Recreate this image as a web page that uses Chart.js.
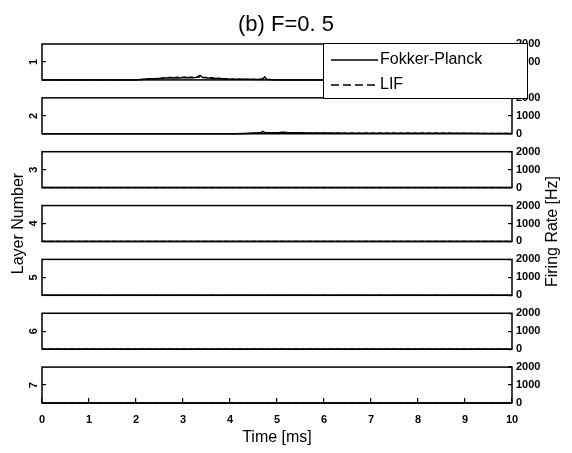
<!DOCTYPE html>
<html><head><meta charset="utf-8">
<script src="https://cdn.jsdelivr.net/npm/chart.js@4.4.0/dist/chart.umd.min.js"></script>
<style>html,body{margin:0;padding:0;background:#fff}#wrap{width:572px;height:453px;position:relative}</style>
</head><body><div id="wrap"><canvas id="c" width="572" height="453"></canvas></div>
<script>
// ---- text ----
const chartTitle = '(b) F=0. 5';
const xTitle = 'Time [ms]';
const leftTitle = 'Layer Number';
const rightTitle = 'Firing Rate [Hz]';
const layerLabels = ['1', '2', '3', '4', '5', '6', '7'];
const seriesNames = ['Fokker-Planck', 'LIF'];
const xTickValues = [0, 1, 2, 3, 4, 5, 6, 7, 8, 9, 10];
const rateTickValues = [0, 1000, 2000];

// ---- data (time in ms, rate in Hz) ----
const layer1FpTime = [0, 2.0, 2.15, 2.3, 2.45, 2.6, 2.75, 2.9, 3.05, 3.2, 3.3, 3.36, 3.42, 3.55, 3.7, 3.85, 4.0, 4.2, 4.4, 4.6, 4.7, 4.74, 4.78, 4.9, 5.2, 10];
const layer1FpRate = [0, 0, 40, 70, 60, 100, 120, 110, 130, 120, 140, 250, 130, 100, 80, 60, 40, 30, 30, 25, 60, 170, 30, 10, 0, 0];
const layer1LifTime = [0, 2.1, 2.3, 2.5, 2.7, 2.9, 3.1, 3.3, 3.5, 3.7, 3.9, 4.1, 4.4, 4.7, 5.0, 10];
const layer1LifRate = [0, 0, 60, 90, 140, 150, 150, 160, 140, 110, 70, 50, 30, 20, 0, 0];
const layer2FpTime = [0, 4.1, 4.3, 4.5, 4.65, 4.7, 4.75, 4.9, 5.05, 5.15, 5.25, 5.4, 5.7, 6.0, 6.5, 7.0, 7.5, 8.0, 8.5, 9.0, 9.5, 10];
const layer2FpRate = [0, 0, 20, 40, 50, 130, 50, 50, 70, 90, 60, 50, 40, 40, 30, 30, 30, 25, 30, 25, 20, 20];
const layer2LifTime = [0, 4.3, 4.6, 5.0, 5.3, 5.8, 6.5, 7.5, 8.5, 9.5, 10];
const layer2LifRate = [0, 0, 30, 50, 50, 40, 35, 30, 30, 25, 20];
const layer3to7Time = [0, 10];
const layer3to7Rate = [0, 0];

const fpSeries = [
  [layer1FpTime, layer1FpRate], [layer2FpTime, layer2FpRate],
  [layer3to7Time, layer3to7Rate], [layer3to7Time, layer3to7Rate], [layer3to7Time, layer3to7Rate],
  [layer3to7Time, layer3to7Rate], [layer3to7Time, layer3to7Rate]
];
const lifSeries = [
  [layer1LifTime, layer1LifRate], [layer2LifTime, layer2LifRate],
  [layer3to7Time, layer3to7Rate], [layer3to7Time, layer3to7Rate], [layer3to7Time, layer3to7Rate],
  [layer3to7Time, layer3to7Rate], [layer3to7Time, layer3to7Rate]
];

// ---- build ----
const pts = (t, v) => t.map((x, i) => ({x: x, y: v[i]}));
const tickFont = {family: "'Liberation Sans Narrow', 'Liberation Sans', Arial, sans-serif", size: 11, weight: 'bold'};
const labelFont = {family: "'Liberation Sans', Arial, sans-serif", size: 16};

const datasets = [];
for (let i = 0; i < 7; i++) {
  datasets.push({label: seriesNames[0], data: pts(fpSeries[i][0], fpSeries[i][1]), yAxisID: 'yR' + i,
    borderColor: '#000', borderWidth: 1.5, pointRadius: 0, tension: 0, clip: 3, fill: false});
  datasets.push({label: seriesNames[1], data: pts(lifSeries[i][0], lifSeries[i][1]), yAxisID: 'yR' + i,
    borderColor: '#000', borderWidth: 1.2, borderDash: [4, 3], pointRadius: 0, tension: 0, clip: 3, fill: false});
}

const scales = {
  x: {
    type: 'linear', position: 'bottom', min: 0, max: 10,
    afterBuildTicks: s => { s.ticks = xTickValues.map(v => ({value: v})); },
    ticks: {font: tickFont, color: '#000', padding: 15, maxRotation: 0, autoSkip: false},
    grid: {drawOnChartArea: false, tickLength: -5, color: '#000', lineWidth: 1.2},
    border: {display: false},
    title: {display: true, text: xTitle, font: labelFont, color: '#000', padding: {top: 0, bottom: 6}},
    afterFit: s => { s.height = 50; }
  }
};
for (let i = 0; i < 7; i++) {
  scales['yL' + i] = {
    type: 'linear', position: 'left', stack: 'L', stackWeight: 2, weight: 100 - 2 * i,
    min: 0, max: 2000,
    afterBuildTicks: s => { s.ticks = [{value: 1000}]; },
    ticks: {callback: () => layerLabels[i], minRotation: 90, maxRotation: 90, padding: 12, labelOffset: -3, font: tickFont, color: '#000', autoSkip: false},
    grid: {drawOnChartArea: false, tickLength: -4, color: '#000', lineWidth: 1.2},
    border: {display: false},
    title: {display: i === 3, text: leftTitle, font: labelFont, color: '#000', padding: {top: 9, bottom: 0}},
    afterFit: s => { s.width = 42; }
  };
  scales['yR' + i] = {
    type: 'linear', position: 'right', stack: 'R', stackWeight: 2, weight: 2 * i,
    min: 0, max: 2000,
    afterBuildTicks: s => { s.ticks = rateTickValues.map(v => ({value: v})); },
    ticks: {font: tickFont, color: '#000', padding: 8, autoSkip: false, callback: v => String(v)},
    grid: {drawOnChartArea: false, tickLength: -4, color: '#000', lineWidth: 1.2},
    border: {display: false},
    afterFit: s => { s.width = 60; }
  };
  if (i < 6) {
    scales['gL' + i] = {type: 'linear', position: 'left', stack: 'L', stackWeight: 1, weight: 100 - 2 * i - 1,
      ticks: {display: false}, grid: {display: false}, border: {display: false}, afterFit: s => { s.width = 42; }};
    scales['gR' + i] = {type: 'linear', position: 'right', stack: 'R', stackWeight: 1, weight: 2 * i + 1,
      ticks: {display: false}, grid: {display: false}, border: {display: false}, afterFit: s => { s.width = 60; }};
  }
}

const panelPlugin = {
  id: 'panels',
  afterDatasetsDraw(chart) {
    const ctx = chart.ctx, a = chart.chartArea;
    ctx.save();
    ctx.strokeStyle = '#000';
    ctx.lineWidth = 1.5;
    for (let i = 0; i < 7; i++) {
      const s = chart.scales['yL' + i];
      ctx.strokeRect(a.left, s.top, a.right - a.left, s.bottom - s.top);
    }
    ctx.restore();
  },
  afterDraw(chart) {
    const ctx = chart.ctx, a = chart.chartArea;
    ctx.save();
    // right axis title
    ctx.fillStyle = '#000';
    ctx.font = "16px 'Liberation Sans', Arial, sans-serif";
    ctx.textAlign = 'center';
    ctx.textBaseline = 'middle';
    ctx.translate(chart.width - 19, (a.top + a.bottom) / 2 + 8);
    ctx.rotate(-Math.PI / 2);
    ctx.fillText(rightTitle, 0, 0);
    ctx.restore();
    // legend box
    ctx.save();
    const bx = 323, by = 43, bw = 204, bh = 55;
    ctx.fillStyle = '#fff';
    ctx.fillRect(bx, by, bw, bh);
    ctx.strokeStyle = '#000';
    ctx.lineWidth = 1;
    ctx.strokeRect(bx + 0.5, by + 0.5, bw, bh);
    const ds = chart.data.datasets;
    [0, 1].forEach((k, r) => {
      const y = by + 17 + r * 25;
      ctx.beginPath();
      ctx.setLineDash(k === 1 ? [8, 4] : []);
      ctx.lineWidth = 1.5;
      ctx.moveTo(bx + 8, y);
      ctx.lineTo(bx + 55, y);
      ctx.stroke();
      ctx.setLineDash([]);
      ctx.fillStyle = '#000';
      ctx.font = "16px 'Liberation Sans', Arial, sans-serif";
      ctx.textAlign = 'left';
      ctx.textBaseline = 'middle';
      ctx.fillText(ds[k].label, bx + 57, y);
    });
    ctx.restore();
  }
};

new Chart(document.getElementById('c'), {
  type: 'line',
  data: {datasets: datasets},
  options: {
    responsive: false, animation: false,
    layout: {padding: 0},
    plugins: {
      legend: {display: false},
      tooltip: {enabled: false},
      title: {display: true, text: chartTitle, color: '#000',
        font: {family: "'Liberation Sans', Arial, sans-serif", size: 22, weight: 'normal'},
        padding: {top: 12, bottom: 5.6}}
    },
    scales: scales
  },
  plugins: [panelPlugin]
});
</script></body></html>
